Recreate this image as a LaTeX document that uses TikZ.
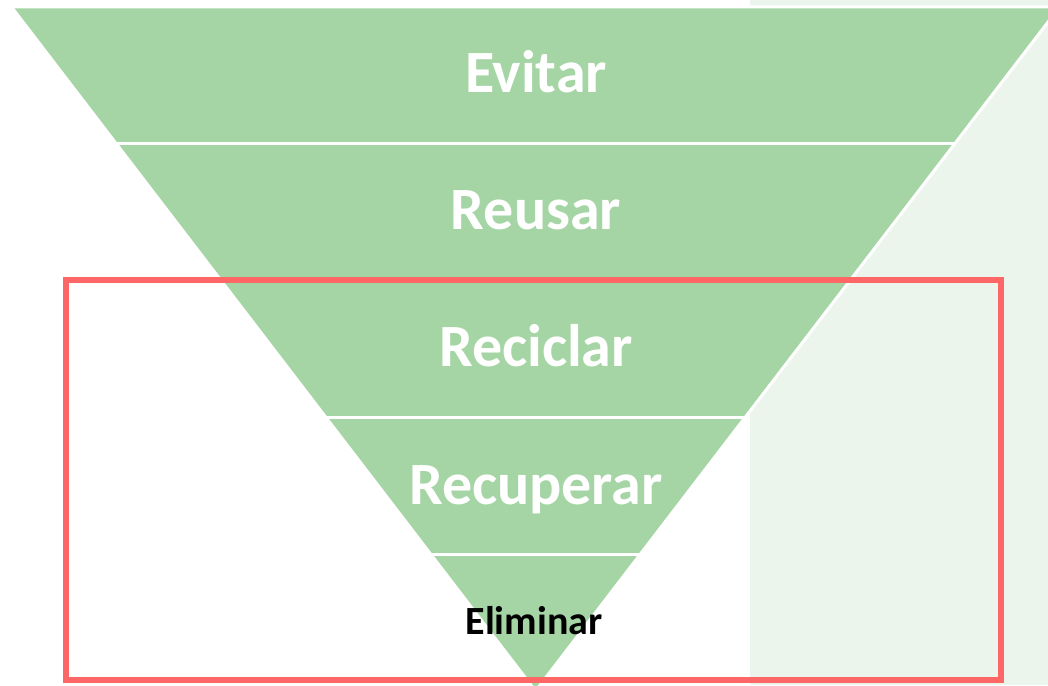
\documentclass[tikz,border=0pt]{standalone}
\usepackage{fontspec}
\setmainfont{Carlito}
\definecolor{verdenivel}{HTML}{A5D5A4}
\definecolor{verdefondo}{HTML}{EBF5EC}
\definecolor{rojomarco}{HTML}{FF6666}
\tikzset{
  nivel/.style={anchor=base, text=white, inner sep=0pt,
    font=\fontsize{60}{72}\selectfont\bfseries},
  nivelfinal/.style={anchor=base, text=black, inner sep=0pt,
    font=\fontsize{40}{48}\selectfont\bfseries}
}
\begin{document}
\begin{tikzpicture}[x=1pt,y=-1pt]
  \useasboundingbox (0,0) rectangle (1048,685);
  \clip (0,0) rectangle (1048,685);
  % Fondo
  \fill[verdefondo] (750,0) rectangle (1048,685);
  % Piramide invertida
  \fill[verdenivel, draw=white, line width=3pt]
    (11.5,7) -- (1059.5,7) -- (535.5,691) -- cycle;
  % Separaciones
  \foreach \y in {143.8,280.6,417.4,554.2}
    \draw[white, line width=3pt]
      ({535.5-0.766*(691-\y)},\y) -- ({535.5+0.766*(691-\y)},\y);
  % Niveles
  \foreach \n/\y/\txt in {evitar/92.5/Evitar,reusar/229.5/Reusar,
                         reciclar/366.5/Reciclar,recuperar/504.5/Recuperar}
    \node[nivel] (\n) at (536,\y) {\txt};
  \node[nivelfinal] (eliminar) at (534,634) {Eliminar};
  % Marco
  \draw[rojomarco, line width=6pt] (65.5,280) rectangle (1000.5,680);
\end{tikzpicture}
\end{document}
